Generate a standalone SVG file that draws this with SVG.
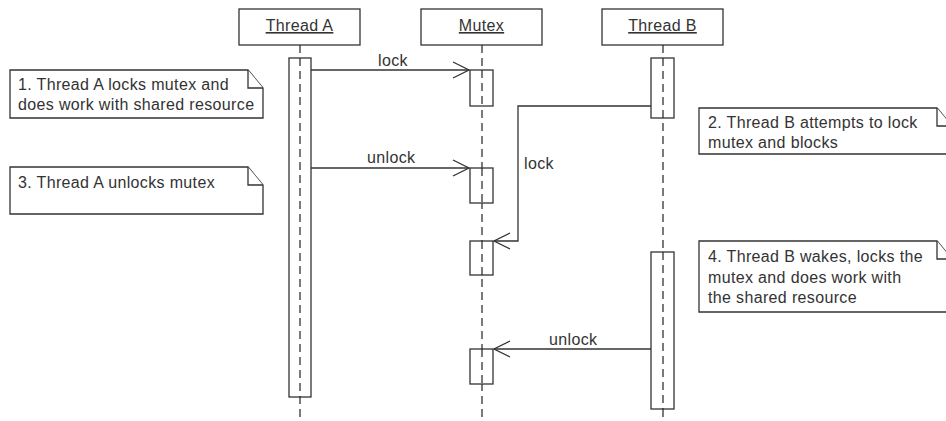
<svg xmlns="http://www.w3.org/2000/svg" width="946" height="421" viewBox="0 0 946 421">
<defs>
<style>
.box{fill:#fff;stroke:#333;stroke-width:1.3}
.life{stroke:#222;stroke-width:1.2;stroke-dasharray:8,5;fill:none}
.act{fill:#fff;stroke:#333;stroke-width:1.3}
.msg{stroke:#333;stroke-width:1.3;fill:none}
.head{stroke:#333;stroke-width:1.3;fill:none}
text{font-family:"Liberation Sans",Arial,sans-serif;font-size:16px;letter-spacing:0.35px;fill:#333}
.title{text-decoration:underline;text-anchor:middle}
.note{fill:#fff;stroke:#333;stroke-width:1.3}
</style>
</defs>
<rect width="946" height="421" fill="#fff"/>
<g id="threadA">
<rect class="box" x="239" y="9" width="121" height="36"/>
<text class="title" x="299.5" y="31">Thread A</text>
<line class="life" x1="300" y1="45" x2="300" y2="420"/>
<rect class="act" x="289" y="58" width="22" height="339"/>
<line class="life" x1="300" y1="58" x2="300" y2="397"/>
</g>
<g id="mutex">
<rect class="box" x="421" y="9" width="121" height="36"/>
<text class="title" x="481.5" y="31">Mutex</text>
<line class="life" x1="482" y1="45" x2="482" y2="420"/>
<rect class="act" x="470" y="70" width="23" height="36"/>
<rect class="act" x="470" y="168" width="23" height="35"/>
<rect class="act" x="470" y="241" width="23" height="34"/>
<rect class="act" x="470" y="349" width="23" height="35"/>
<line class="life" x1="482" y1="70" x2="482" y2="106"/>
<line class="life" x1="482" y1="168" x2="482" y2="203"/>
<line class="life" x1="482" y1="241" x2="482" y2="275"/>
<line class="life" x1="482" y1="349" x2="482" y2="384"/>
</g>
<g id="threadB">
<rect class="box" x="602" y="9" width="121" height="36"/>
<text class="title" x="662.5" y="31">Thread B</text>
<line class="life" x1="663" y1="45" x2="663" y2="420"/>
<rect class="act" x="651" y="58" width="23" height="60"/>
<rect class="act" x="651" y="252" width="23" height="157"/>
<line class="life" x1="663" y1="58" x2="663" y2="118"/>
<line class="life" x1="663" y1="252" x2="663" y2="409"/>
</g>
<g id="connectors">
<line class="msg" x1="311" y1="70" x2="469" y2="70"/>
<polyline class="head" points="453,62 469,70 453,78"/>
<text x="378" y="66">lock</text>
<line class="msg" x1="311" y1="168" x2="469" y2="168"/>
<polyline class="head" points="453,160 469,168 453,176"/>
<text x="367" y="163">unlock</text>
<polyline class="msg" points="651,106 518,106 518,241 494,241"/>
<polyline class="head" points="510,233 494,241 510,249"/>
<text x="524" y="169">lock</text>
<line class="msg" x1="651" y1="349" x2="494" y2="349"/>
<polyline class="head" points="510,341 494,349 510,357"/>
<text x="549" y="345">unlock</text>
</g>
<g id="note1">
<path class="note" d="M10,70 H248 L263,88 V118 H10 Z"/>
<polyline class="note" points="248,70 248,88 263,88"/>
<text x="18" y="90">1. Thread A locks mutex and</text>
<text x="18" y="110">does work with shared resource</text>
</g>
<g id="note3">
<path class="note" d="M10,167 H248 L263,185 V214 H10 Z"/>
<polyline class="note" points="248,167 248,185 263,185"/>
<text x="18" y="188">3. Thread A unlocks mutex</text>
</g>
<g id="note2">
<path class="note" d="M699,108 H937 L952,126 V154 H699 Z"/>
<polyline class="note" points="937,108 937,126 952,126"/>
<text x="708" y="128">2. Thread B attempts to lock</text>
<text x="708" y="148">mutex and blocks</text>
</g>
<g id="note4">
<path class="note" d="M699,241 H937 L952,259 V312 H699 Z"/>
<polyline class="note" points="937,241 937,259 952,259"/>
<text x="708" y="262">4. Thread B wakes, locks the</text>
<text x="708" y="283">mutex and does work with</text>
<text x="708" y="303">the shared resource</text>
</g>
</svg>
